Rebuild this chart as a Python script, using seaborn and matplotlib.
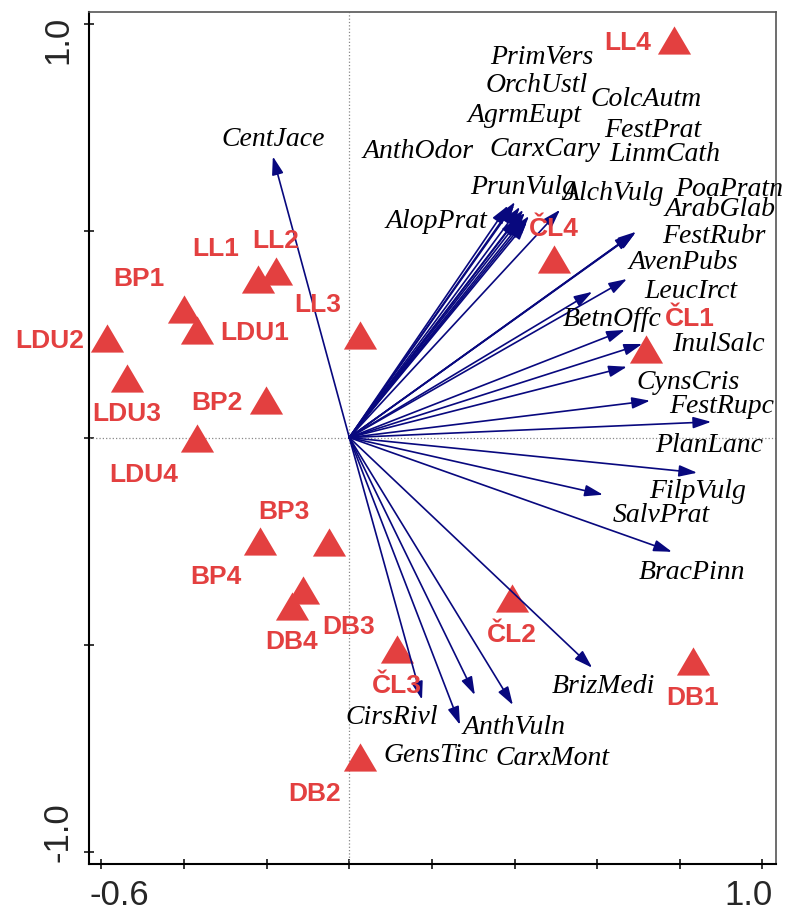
import matplotlib
matplotlib.use('Agg')
import matplotlib.pyplot as plt
import matplotlib.transforms as mtransforms
import pandas as pd
import seaborn as sns

# species scores (arrow tips)
species = ['CentJace', 'AnthOdor', 'AlopPrat', 'PrimVers', 'OrchUstl', 'AgrmEupt',
           'CarxCary', 'ColcAutm', 'FestPrat', 'LinmCath', 'PrunVulg', 'AlchVulg',
           'PoaPratn', 'ArabGlab', 'FestRubr', 'AvenPubs', 'LeucIrct', 'BetnOffc',
           'InulSalc', 'CynsCris', 'FestRupc', 'PlanLanc', 'FilpVulg', 'SalvPrat',
           'BracPinn', 'BrizMedi', 'CirsRivl', 'AnthVuln', 'GensTinc', 'CarxMont']
sp_x = [-0.185, 0.408, 0.384, 0.413, 0.399, 0.421,
        0.421, 0.430, 0.425, 0.435, 0.401, 0.510,
        0.692, 0.687, 0.694, 0.672, 0.588, 0.667,
        0.709, 0.672, 0.728, 0.876, 0.842, 0.614,
        0.781, 0.588, 0.176, 0.268, 0.304, 0.396]
sp_y = [0.679, 0.531, 0.560, 0.557, 0.562, 0.550,
        0.526, 0.521, 0.543, 0.535, 0.569, 0.550,
        0.494, 0.492, 0.497, 0.383, 0.352, 0.260,
        0.226, 0.171, 0.089, 0.038, -0.085, -0.138,
        -0.276, -0.556, -0.633, -0.694, -0.622, -0.646]

# where the species names were placed
sp_lab_x = [-0.185, 0.166, 0.212, 0.467, 0.453, 0.425,
            0.474, 0.718, 0.735, 0.764, 0.421, 0.638,
            0.919, 0.898, 0.883, 0.808, 0.827, 0.636,
            0.893, 0.820, 0.902, 0.871, 0.842, 0.755,
            0.830, 0.614, 0.103, 0.399, 0.210, 0.493]
sp_lab_y = [0.719, 0.690, 0.523, 0.919, 0.850, 0.779,
            0.695, 0.816, 0.741, 0.683, 0.603, 0.589,
            0.598, 0.550, 0.485, 0.422, 0.352, 0.286,
            0.224, 0.132, 0.074, -0.020, -0.131, -0.189,
            -0.327, -0.602, -0.677, -0.701, -0.769, -0.774]

# sample scores
sites = ['LL1', 'LL2', 'LL3', 'LL4', 'LDU1', 'LDU2', 'LDU3', 'LDU4',
         'BP1', 'BP2', 'BP3', 'BP4', 'DB1', 'DB2', 'DB3', 'DB4',
         'ČL1', 'ČL2', 'ČL3', 'ČL4']
site_x = [-0.222, -0.178, 0.025, 0.786, -0.369, -0.587, -0.538, -0.368,
          -0.401, -0.202, -0.050, -0.215, 0.831, 0.025, -0.111, -0.139,
          0.718, 0.393, 0.116, 0.496]
site_y = [0.384, 0.403, 0.247, 0.959, 0.260, 0.240, 0.145, -0.001,
          0.311, 0.091, -0.253, -0.249, -0.540, -0.771, -0.368, -0.406,
          0.215, -0.387, -0.511, 0.432]
site_lab_side = ['NW', 'N', 'NW', 'W', 'E', 'W', 'S', 'SW',
                 'NW', 'W', 'NW', 'SW', 'S', 'SW', 'SE', 'S',
                 'NE', 'S', 'S', 'N']

red = '#e34040'
navy = '#08087e'

# label offsets in points for each side
side_off = {'N': (0, 21.5, 'center'), 'S': (0, -26.5, 'center'),
            'W': (-16.5, -2, 'right'), 'E': (16.5, -2, 'left'),
            'NW': (-13.5, 21.5, 'right'), 'NE': (13.5, 21.5, 'left'),
            'SW': (-13.5, -26.5, 'right'), 'SE': (13.5, -26.5, 'left')}

sns.set_style('white')
plt.rcParams['font.family'] = ['Liberation Sans', 'DejaVu Sans']

fig = plt.figure(figsize=(7.85, 9.14), dpi=100)
ax = fig.add_axes([0.1134, 0.0547, 0.8747, 0.9318])

ax.axhline(0, color='#888888', ls=':', lw=0.9, zorder=1)
ax.axvline(0, color='#888888', ls=':', lw=0.9, zorder=1)

df_sites = pd.DataFrame({'site': sites, 'x': site_x, 'y': site_y})
tri = [(0, 0.85), (-1, -0.85), (1, -0.85)]
sns.scatterplot(data=df_sites, x='x', y='y', marker=tri, s=570, color=red,
                linewidth=0, ax=ax, zorder=2, legend=False)

for x, y in zip(sp_x, sp_y):
    ax.annotate('', xy=(x, y), xytext=(0, 0),
                arrowprops=dict(arrowstyle='-|>,head_length=1.1,head_width=0.35',
                                color=navy, lw=1.2, shrinkA=0, shrinkB=0),
                zorder=3)

for name, lx, ly in zip(species, sp_lab_x, sp_lab_y):
    ax.text(lx, ly, name, family='Liberation Serif', style='italic', fontsize=20,
            ha='center', va='center', color='black', zorder=4, clip_on=False)

for name, x, y, side in zip(sites, site_x, site_y, site_lab_side):
    dx, dy, ha = side_off[side]
    ax.annotate(name, xy=(x, y), xytext=(dx, dy), textcoords='offset points',
                ha=ha, va='center', color=red, fontsize=19, fontweight='bold',
                zorder=4, annotation_clip=False)

ax.set_xlim(-0.630, 1.032)
ax.set_ylim(-1.030, 1.027)
ax.set_xlabel('')
ax.set_ylabel('')

xt = [-0.6, -0.4, -0.2, 0.0, 0.2, 0.4, 0.6, 0.8, 1.0]
yt = [-1.0, -0.5, 0.0, 0.5, 1.0]
ax.set_xticks(xt, ['-0.6', '', '', '', '', '', '', '', '1.0'])
ax.set_yticks(yt, ['-1.0', '', '', '', '1.0'])
ax.tick_params(axis='both', direction='inout', length=7, width=1.1,
               labelsize=25, pad=7, color='black', left=True, bottom=True)
for lab in ax.get_yticklabels():
    lab.set_rotation(90)

# keep end labels inside the frame, as in the original
xl = ax.get_xticklabels()
xl[0].set_ha('left')
xl[0].set_transform(xl[0].get_transform() + mtransforms.ScaledTranslation(-0.12, 0, fig.dpi_scale_trans))
xl[-1].set_ha('right')
xl[-1].set_transform(xl[-1].get_transform() + mtransforms.ScaledTranslation(0.10, 0, fig.dpi_scale_trans))
yl = ax.get_yticklabels()
yl[0].set_va('bottom')
yl[0].set_transform(yl[0].get_transform() + mtransforms.ScaledTranslation(0, -0.10, fig.dpi_scale_trans))
yl[-1].set_va('top')
yl[-1].set_transform(yl[-1].get_transform() + mtransforms.ScaledTranslation(0, 0.08, fig.dpi_scale_trans))

for s in ['left', 'bottom']:
    ax.spines[s].set_linewidth(1.5)
    ax.spines[s].set_color('black')
for s in ['top', 'right']:
    ax.spines[s].set_linewidth(1.2)
    ax.spines[s].set_color('#555555')

fig.savefig('out.png', dpi=100)
